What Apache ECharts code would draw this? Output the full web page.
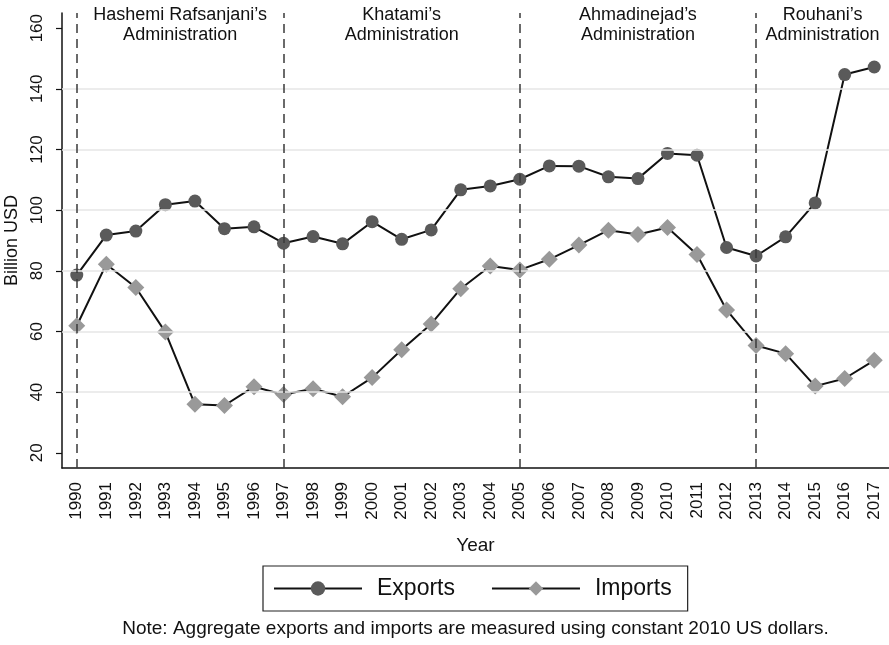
<!DOCTYPE html>
<html>
<head>
<meta charset="utf-8">
<title>Iran exports and imports, 1990–2017</title>
<script src="https://cdn.jsdelivr.net/npm/echarts@6/dist/echarts.min.js"></script>
<style>
  html, body { margin: 0; padding: 0; background: #fff; }
  #chart { width: 889px; height: 645px; }
</style>
</head>
<body>
<div id="chart"></div>
<script>
// Years on the horizontal axis
const years = ['1990','1991','1992','1993','1994','1995','1996','1997','1998','1999',
  '2000','2001','2002','2003','2004','2005','2006','2007','2008','2009',
  '2010','2011','2012','2013','2014','2015','2016','2017'];

// Billion USD, constant 2010 dollars
const exportsValues = [78.6, 91.8, 93.1, 101.8, 103.0, 93.9, 94.5, 89.1, 91.3, 88.9,
  96.2, 90.4, 93.5, 106.7, 108.0, 110.2, 114.6, 114.5, 111.0, 110.4,
  118.7, 118.1, 87.7, 84.9, 91.2, 102.4, 144.7, 147.2];
const importsValues = [61.9, 82.2, 74.5, 59.8, 36.0, 35.6, 41.8, 39.2, 41.1, 38.5,
  44.8, 54.0, 62.5, 74.1, 81.6, 80.3, 83.8, 88.5, 93.4, 92.0,
  94.3, 85.4, 67.1, 55.4, 52.7, 42.0, 44.5, 50.5];

// Y tick labels and interior grid lines
const yTicks = [20, 40, 60, 80, 100, 120, 140, 160];
const yGrid = [40, 60, 80, 100, 120, 140];

// Presidential terms: start year and label
const termStarts = ['1990', '1997', '2005', '2013'];
const termNames = [
  "Hashemi Rafsanjani’s\nAdministration",
  "Khatami’s\nAdministration",
  "Ahmadinejad’s\nAdministration",
  "Rouhani’s\nAdministration"
];

const NOTE = 'Note: Aggregate exports and imports are measured using constant 2010 US dollars.';

const FONT = "'Liberation Sans', Arial, Helvetica, sans-serif";
const chart = echarts.init(document.getElementById('chart'), null, { renderer: 'canvas' });

const option = {
  backgroundColor: '#fff',
  animation: false,
  textStyle: { fontFamily: FONT, color: '#111' },
  grid: { left: 62, right: 0, top: 13, bottom: 177, containLabel: false, outerBoundsMode: 'none' },
  xAxis: {
    type: 'category',
    data: years,
    boundaryGap: true,
    name: 'Year',
    nameLocation: 'middle',
    nameGap: 68,
    nameTextStyle: { fontSize: 19, color: '#111', fontFamily: FONT },
    axisLine: { lineStyle: { color: '#111', width: 1.5 } },
    axisTick: { alignWithLabel: true, length: 7, lineStyle: { color: '#111', width: 1.2 } },
    axisLabel: { rotate: 90, interval: 0, margin: 14, fontSize: 17, color: '#111', fontFamily: FONT },
    splitLine: { show: false }
  },
  yAxis: {
    type: 'value',
    min: 15,
    max: 165,
    name: 'Billion USD',
    nameLocation: 'middle',
    nameGap: 37,
    nameRotate: 90,
    nameTextStyle: { fontSize: 18, color: '#111', fontFamily: FONT },
    axisLine: { show: true, lineStyle: { color: '#111', width: 1.5 } },
    axisTick: { show: true, length: 6, customValues: yTicks, lineStyle: { color: '#111', width: 1.2 } },
    axisLabel: { rotate: 90, margin: 16, fontSize: 17, color: '#111', fontFamily: FONT, customValues: yTicks },
    splitLine: { show: false }
  },
  legend: {
    data: ['Exports', 'Imports'],
    left: 263,
    top: 566,
    orient: 'horizontal',
    itemWidth: 88,
    itemHeight: 18,
    itemGap: 36,
    padding: [11, 16, 11, 10],
    borderColor: '#222',
    borderWidth: 1.2,
    textStyle: { fontSize: 23, color: '#111', fontFamily: FONT, padding: [0, 0, 0, 10] }
  },
  series: [
    {
      // light grid lines and the dashed term boundaries, kept under the data
      name: 'guides',
      type: 'line',
      data: [],
      z: 1,
      silent: true,
      markLine: {
        silent: true,
        symbol: 'none',
        label: { show: false },
        animation: false,
        data: yGrid.map(v => ({ yAxis: v, lineStyle: { color: '#e6e6e6', width: 1.5, type: 'solid' } }))
          .concat(termStarts.map(y => ({ xAxis: y, lineStyle: { color: '#3a3a3a', width: 1.5, type: [9, 6] } })))
      }
    },
    {
      name: 'Exports',
      type: 'line',
      data: exportsValues,
      z: 3,
      symbol: 'circle',
      symbolSize: 13,
      lineStyle: { color: '#111', width: 2 },
      itemStyle: { color: '#5a5a5a', borderWidth: 0 }
    },
    {
      name: 'Imports',
      type: 'line',
      data: importsValues,
      z: 3,
      symbol: 'diamond',
      symbolSize: 17,
      lineStyle: { color: '#111', width: 2 },
      itemStyle: { color: '#999999', borderWidth: 0 }
    }
  ]
};

chart.setOption(option);

// Term labels centred over each administration's span; note centred under the plot
const xs = years.map(y => chart.convertToPixel({ xAxisIndex: 0 }, y));
const band = xs[1] - xs[0];
const leftEdge = xs[0] - band / 2;
const rightEdge = xs[xs.length - 1] + band / 2;
const bounds = termStarts.map(y => xs[years.indexOf(y)]).concat([rightEdge]);
const termLabels = termNames.map((t, i) => ({
  type: 'text',
  x: (bounds[i] + bounds[i + 1]) / 2,
  y: 25.5,
  z: 10,
  style: {
    text: t,
    font: '18px ' + FONT,
    fill: '#111',
    align: 'center',
    verticalAlign: 'middle',
    lineHeight: 20
  }
}));
const note = {
  type: 'text',
  x: (leftEdge + rightEdge) / 2,
  y: 629,
  style: {
    text: NOTE,
    font: '19px ' + FONT,
    fill: '#111',
    align: 'center',
    verticalAlign: 'middle'
  }
};
chart.setOption({ graphic: termLabels.concat([note]) });
</script>
</body>
</html>
